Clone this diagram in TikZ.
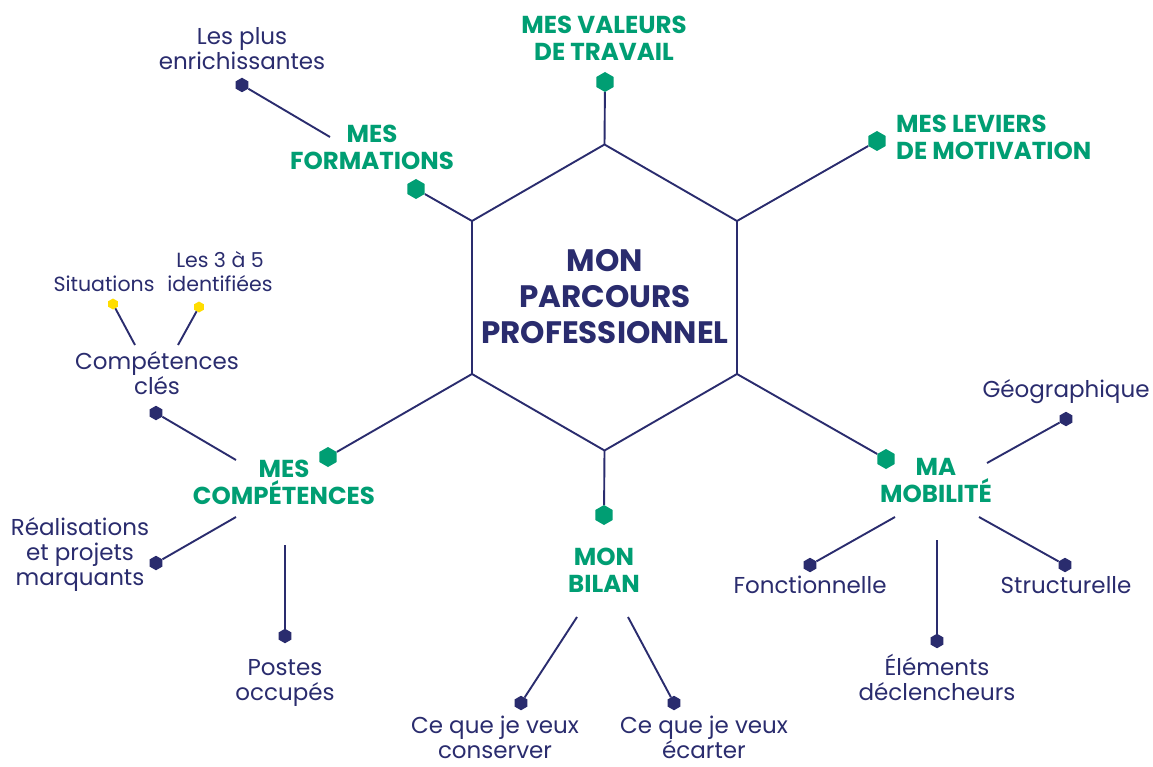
\documentclass[tikz,border=0pt]{standalone}
\usepackage{fontspec}
\setmainfont{Poppins}
\usetikzlibrary{shapes.geometric}
\definecolor{navy}{RGB}{42,44,110}
\definecolor{vert}{RGB}{0,158,115}
\definecolor{jaune}{RGB}{255,221,0}
\tikzset{
  link/.style={draw=navy, line width=1.9pt},
  hexmark/.style={regular polygon, regular polygon sides=6, shape border rotate=90, inner sep=0pt, draw=none},
  gmark/.style={hexmark, fill=vert, minimum size=20pt},
  dmark/.style={hexmark, fill=navy, minimum size=14.5pt},
  ymark/.style={hexmark, fill=jaune, minimum size=11pt},
  ctext/.style={text=navy, font=\bfseries\fontsize{31}{36}\selectfont, align=center, inner sep=0pt},
  glab/.style={text=vert, font=\bfseries\fontsize{24.5}{27}\selectfont, align=center, inner sep=0pt},
  blab/.style={text=navy, font=\fontsize{23}{25}\selectfont, align=center, inner sep=0pt},
  slab/.style={text=navy, font=\fontsize{20.5}{24}\selectfont, align=center, inner sep=0pt}
}
\begin{document}
\begin{tikzpicture}[x=1pt,y=-1pt]
\fill[white] (0,0) rectangle (1153,767);
\useasboundingbox (0,0) rectangle (1153,767);
% central hexagon
\coordinate (hT) at (604.5,144.5);
\coordinate (hUR) at (737,221);
\coordinate (hLR) at (737,374);
\coordinate (hB) at (604.5,450.5);
\coordinate (hLL) at (472,374);
\coordinate (hUL) at (472,221);
\draw[link, line join=miter] (hT) -- (hUR) -- (hLR) -- (hB) -- (hLL) -- (hUL) -- cycle;
\node[ctext, anchor=base] (centre) at (605,343) {MON\\PARCOURS\\PROFESSIONNEL};
% green markers
\node[gmark] (mVal) at (605,82) {};
\node[gmark] (mLev) at (877,141) {};
\node[gmark] (mFor) at (416,189) {};
\node[gmark] (mCom) at (328,457) {};
\node[gmark] (mBil) at (604,515) {};
\node[gmark] (mMob) at (886,459) {};
\draw[link] (hT) -- (mVal);
\draw[link] (hUR) -- (mLev);
\draw[link] (hUL) -- (mFor);
\draw[link] (hLL) -- (mCom);
\draw[link] (hB) -- (mBil);
\draw[link] (hLR) -- (mMob);
% green labels
\node[glab, anchor=base] (lVal) at (604,61) {MES VALEURS\\DE TRAVAIL};
\node[glab, anchor=base west, align=left] (lLev) at (896,160) {MES LEVIERS\\DE MOTIVATION};
\node[glab, anchor=base] (lFor) at (372,170) {MES\\FORMATIONS};
\node[glab, anchor=base] (lCom) at (284,504) {MES\\COMPÉTENCES};
\node[glab, anchor=base] (lBil) at (604,592) {MON\\BILAN};
\node[glab, anchor=base] (lMob) at (936,502) {MA\\MOBILITÉ};
% formations
\coordinate (fFor) at (330,137);
\node[dmark] (dFor) at (242,85) {};
\draw[link] (fFor) -- (dFor);
\node[blab, anchor=base] (tFor) at (242,70) {Les plus\\enrichissantes};
% competences
\coordinate (fCle) at (236,460);
\node[dmark] (dCle) at (156,413) {};
\draw[link] (fCle) -- (dCle);
\node[blab, anchor=base] (tCle) at (157,394) {Compétences\\clés};
\coordinate (fSit) at (135,345);
\node[ymark] (ySit) at (113,304) {};
\draw[link] (fSit) -- (ySit);
\node[slab, anchor=base] (tSit) at (104,291) {Situations};
\coordinate (fIde) at (178,345);
\node[ymark] (yIde) at (199,307) {};
\draw[link] (fIde) -- (yIde);
\node[slab, anchor=base] (tIde) at (220,291) {Les 3 à 5\\identifiées};
\coordinate (fRea) at (236,517);
\node[dmark] (dRea) at (156,563) {};
\draw[link] (fRea) -- (dRea);
\node[blab, anchor=base] (tRea) at (80,585) {Réalisations\\et projets\\marquants};
\coordinate (fPos) at (285,545);
\node[dmark] (dPos) at (285,636) {};
\draw[link] (fPos) -- (dPos);
\node[blab, anchor=base] (tPos) at (285,700) {Postes\\occupés};
% bilan
\coordinate (fCon) at (577,617);
\node[dmark] (dCon) at (521,703) {};
\draw[link] (fCon) -- (dCon);
\node[blab, anchor=base] (tCon) at (495,758) {Ce que je veux\\conserver};
\coordinate (fEca) at (628,617);
\node[dmark] (dEca) at (674,703) {};
\draw[link] (fEca) -- (dEca);
\node[blab, anchor=base] (tEca) at (704,758) {Ce que je veux\\écarter};
% mobilite
\coordinate (fGeo) at (987,463);
\node[dmark] (dGeo) at (1066,419) {};
\draw[link] (fGeo) -- (dGeo);
\node[blab, anchor=base] (tGeo) at (1066,397) {Géographique};
\coordinate (fFon) at (895,517);
\node[dmark] (dFon) at (810,565) {};
\draw[link] (fFon) -- (dFon);
\node[blab, anchor=base] (tFon) at (810,593) {Fonctionnelle};
\coordinate (fEle) at (937,540);
\node[dmark] (dEle) at (937,641) {};
\draw[link] (fEle) -- (dEle);
\node[blab, anchor=base] (tEle) at (937,700) {Éléments\\déclencheurs};
\coordinate (fStr) at (979,517);
\node[dmark] (dStr) at (1065,565) {};
\draw[link] (fStr) -- (dStr);
\node[blab, anchor=base] (tStr) at (1066,593) {Structurelle};
\end{tikzpicture}
\end{document}
